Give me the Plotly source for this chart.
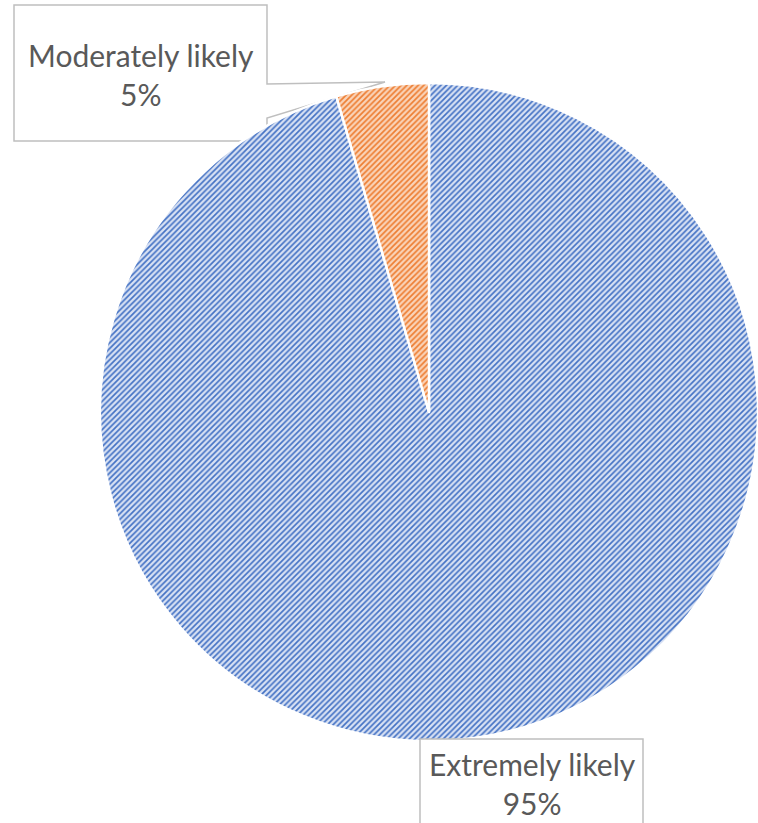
import plotly.graph_objects as go

# Survey answers (respondent counts)
categories = ["Extremely likely", "Moderately likely"]
counts = [21, 1]

# Slice styling: hatched fill, light background with darker stripes
stripe_colors = ["#4472C4", "#ED7D31"]
fill_colors = ["#D9E2F4", "#FAD4B9"]

W, H = 758, 823
total = sum(counts)
pct_labels = [f"{round(100 * c / total)}%" for c in counts]


def fx(p):
    return p / W


def fy(p):
    return 1 - p / H


fig = go.Figure(
    go.Pie(
        labels=categories,
        values=counts,
        sort=False,
        direction="clockwise",
        rotation=0,
        textinfo="none",
        hoverinfo="label+percent",
        showlegend=False,
        domain=dict(x=[fx(100), 1], y=[fy(741), fy(83)]),
        marker=dict(
            colors=fill_colors,
            line=dict(color="white", width=2.5),
            pattern=dict(
                shape="/",
                size=4,
                solidity=0.42,
                fgcolor=stripe_colors,
                bgcolor=fill_colors,
            ),
        ),
    )
)

text_font = dict(family="Lato, sans-serif", size=30, color="#595959")
border = dict(color="#BFBFBF", width=1.5)

# Callout box for the small slice, sitting under the pie
callout = [(14, 5), (267, 5), (267, 84), (385, 82), (267, 118), (267, 141), (14, 141)]
path = "M " + " L ".join(f"{fx(x):.5f},{fy(y):.5f}" for x, y in callout) + " Z"

shapes = [
    dict(type="path", xref="paper", yref="paper", path=path,
         fillcolor="white", line=border, layer="below"),
    dict(type="rect", xref="paper", yref="paper",
         x0=fx(420), x1=fx(643), y0=fy(739), y1=fy(840),
         fillcolor="white", line=border, layer="above"),
]

annotations = [
    dict(xref="paper", yref="paper", x=fx(141), y=fy(74),
         text=f"{categories[1]}<br>{pct_labels[1]}", showarrow=False,
         font=text_font, xanchor="center", yanchor="middle", align="center"),
    dict(xref="paper", yref="paper", x=fx(532), y=fy(783),
         text=f"{categories[0]}<br>{pct_labels[0]}", showarrow=False,
         font=text_font, xanchor="center", yanchor="middle", align="center"),
]

fig.update_layout(
    width=W,
    height=H,
    margin=dict(l=0, r=0, t=0, b=0),
    paper_bgcolor="white",
    plot_bgcolor="white",
    shapes=shapes,
    annotations=annotations,
)

fig.write_html("out.html")
